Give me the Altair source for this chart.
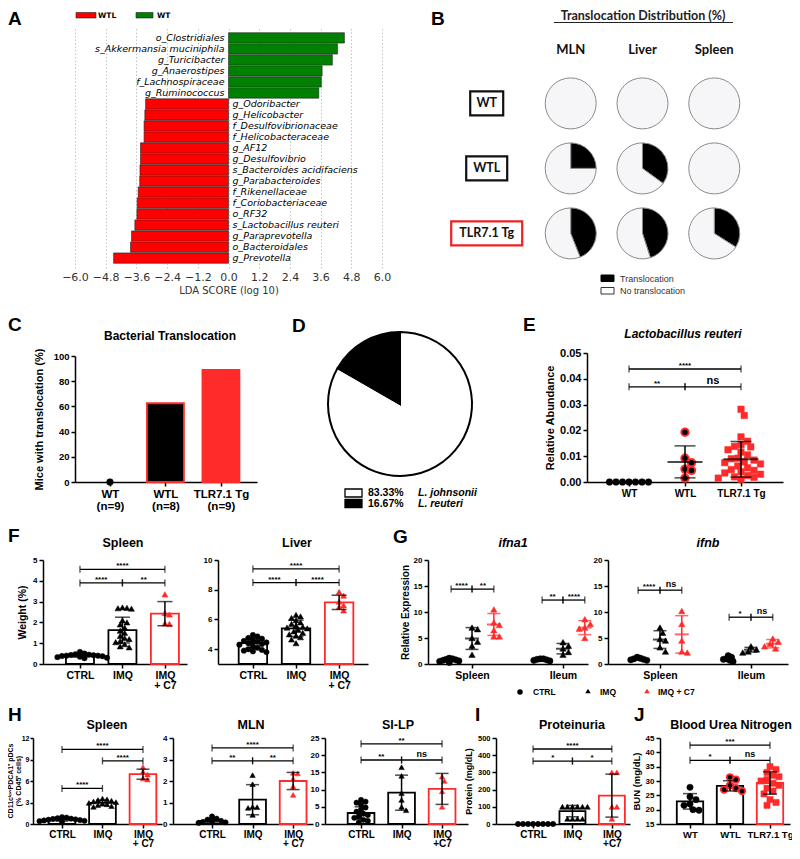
import math
import pandas as pd
import altair as alt

FONT = "Liberation Sans"
RED = "#ff2a2a"
TWO_PI = 2 * math.pi

# ======================= DATA =======================
# A  LEfSe
lefse_taxa = [
    "o_Clostridiales", "s_Akkermansia muciniphila", "g_Turicibacter", "g_Anaerostipes",
    "f_Lachnospiraceae", "g_Ruminococcus", "g_Odoribacter", "g_Helicobacter",
    "f_Desulfovibrionaceae", "f_Helicobacteraceae", "g_AF12", "g_Desulfovibrio",
    "s_Bacteroides acidifaciens", "g_Parabacteroides", "f_Rikenellaceae",
    "f_Coriobacteriaceae", "o_RF32", "s_Lactobacillus reuteri", "g_Paraprevotella",
    "o_Bacteroidales", "g_Prevotella"]
lefse_lda = [4.53, 4.26, 4.06, 3.66, 3.63, 3.53, -3.24, -3.27, -3.30, -3.30, -3.44, -3.44,
             -3.46, -3.47, -3.53, -3.57, -3.58, -3.66, -3.79, -3.83, -4.49]
lefse_class = ["WT"] * 6 + ["WTL"] * 15
lda_ticks = [-6.0, -4.8, -3.6, -2.4, -1.2, 0.0, 1.2, 2.4, 3.6, 4.8, 6.0]

# B  translocation distribution (fraction translocated)
trans_groups = ["WT", "WTL", "TLR7.1 Tg"]
trans_sites = ["MLN", "Liver", "Spleen"]
trans_mln = [0.0, 0.25, 0.44]
trans_liver = [0.0, 0.35, 0.45]
trans_spleen = [0.0, 0.0, 0.34]

# C  bacterial translocation
bt_groups = ["WT", "WTL", "TLR7.1 Tg"]
bt_n = [9, 8, 9]
bt_pct = [0.0, 62.5, 88.9]

# D  Lactobacillus species
lacto_species = ["L. johnsonii", "L. reuteri"]
lacto_pct = [83.33, 16.67]

# E  L. reuteri relative abundance
lr_groups = ["WT", "WTL", "TLR7.1 Tg"]
lr_wt = [0.0, 0.0, 0.0, 0.0, 0.0, 0.0, 0.0]
lr_wtl = [0.0193, 0.0092, 0.0075, 0.0050, 0.0045, 0.0015]
lr_tg = [0.0282, 0.0258, 0.0175, 0.0158, 0.0145, 0.0138, 0.0136, 0.0125, 0.0116, 0.0105,
         0.0092, 0.0090, 0.0085, 0.0078, 0.0075, 0.0070, 0.0062, 0.0055, 0.0048, 0.0045,
         0.0040, 0.0035, 0.0030, 0.0025, 0.0020, 0.0018, 0.0015, 0.0010]
lr_mean = [0.0, 0.0078, 0.0088]
lr_sd = [0.0, 0.0062, 0.0069]
lr_sig = [(0, 2, 0.0438, "****"), (0, 1, 0.0369, "**"), (1, 2, 0.0369, "ns")]

# F  organ weights
trt_names = [["CTRL"], ["IMQ"], ["IMQ", "+ C7"]]
spw_ctrl = [0.58, 0.50, 0.47, 0.45, 0.43, 0.42, 0.40, 0.40, 0.38, 0.37, 0.35, 0.33, 0.30, 0.28]
spw_imq = [2.72, 2.70, 2.68, 2.66, 2.10, 2.00, 1.90, 1.75, 1.60, 1.50, 1.35, 1.25, 1.20, 1.10,
           1.05, 0.95, 0.85, 0.80]
spw_c7 = [3.35, 2.45, 2.38, 1.95, 1.93]
spw_mean = [0.40, 1.63, 2.42]
spw_sd = [0.07, 0.62, 0.58]
spw_sig = [(0, 2, 4.55, "****"), (0, 1, 3.90, "****"), (1, 2, 3.90, "**")]

lvw_ctrl = [4.95, 4.85, 4.75, 4.70, 4.60, 4.55, 4.50, 4.45, 4.40, 4.35, 4.30, 4.20, 4.10, 4.00,
            3.95, 3.90, 3.85, 3.80]
lvw_imq = [6.30, 6.20, 6.10, 5.95, 5.80, 5.70, 5.60, 5.50, 5.45, 5.40, 5.30, 5.20, 5.10, 5.00,
           4.90, 4.80, 4.65, 4.40]
lvw_c7 = [7.85, 7.60, 7.20, 6.95, 6.85, 6.60]
lvw_mean = [4.40, 5.40, 7.15]
lvw_sd = [0.35, 0.55, 0.48]
lvw_sig = [(0, 2, 9.40, "****"), (0, 1, 8.48, "****"), (1, 2, 8.48, "****")]

# G  relative expression
tissue_names = [["Spleen"], ["Ileum"]]
ifna1_spleen = [[1.1, 1.0, 0.9, 0.8, 0.7, 0.6, 0.5, 0.3], [7.0, 6.7, 5.0, 4.3, 3.5, 1.8],
                [10.5, 8.0, 7.5, 6.5, 5.3, 5.3]]
ifna1_spleen_mean = [0.8, 4.9, 7.6]
ifna1_spleen_sd = [0.25, 2.1, 2.1]
ifna1_ileum = [[1.0, 1.0, 0.9, 0.8, 0.7, 0.6], [4.2, 3.5, 3.0, 2.3, 1.8],
               [8.6, 7.7, 7.0, 6.8, 5.0]]
ifna1_ileum_mean = [0.8, 2.95, 7.0]
ifna1_ileum_sd = [0.2, 1.0, 1.35]
ifna1_sig = [(-0.23, 0.0, 14.4, "****"), (0.0, 0.24, 14.4, "**"),
             (0.77, 1.0, 12.3, "**"), (1.0, 1.24, 12.3, "****")]

ifnb_spleen = [[1.3, 1.1, 1.0, 0.9, 0.8, 0.7], [7.0, 6.0, 4.8, 4.5, 3.2, 2.4],
               [10.2, 7.7, 4.5, 2.4, 2.2]]
ifnb_spleen_mean = [1.0, 4.7, 5.7]
ifnb_spleen_sd = [0.2, 1.7, 3.6]
ifnb_ileum = [[1.6, 1.3, 1.0, 0.9, 0.7, 0.5], [3.4, 2.8, 2.4, 2.2], [4.9, 4.3, 3.9, 3.4, 3.0]]
ifnb_ileum_mean = [0.9, 2.75, 3.9]
ifnb_ileum_sd = [0.35, 0.45, 0.8]
ifnb_sig = [(-0.24, 0.0, 14.2, "****"), (0.0, 0.24, 14.2, "ns"),
            (0.76, 1.0, 9.0, "*"), (1.0, 1.24, 9.0, "ns")]

# H  pDCs
pdc_sp = [[0.95, 0.90, 0.80, 0.75, 0.70, 0.65, 0.60, 0.55, 0.50, 0.45, 0.40, 0.30],
          [3.55, 3.45, 3.35, 3.25, 3.15, 3.05, 2.95, 2.85, 2.75, 2.65, 2.50, 2.40],
          [7.95, 7.30, 6.90, 6.35, 6.20]]
pdc_sp_mean = [0.6, 2.95, 6.95]
pdc_sp_sd = [0.2, 0.38, 0.7]
pdc_sp_sig = [(0, 2, 10.4, "****"), (1, 2, 8.8, "****"), (0, 1, 4.97, "****")]

pdc_mln = [[0.35, 0.25, 0.20, 0.15, 0.12, 0.10, 0.08, 0.05],
           [2.27, 1.85, 0.80, 0.78, 0.75, 0.42],
           [2.38, 2.35, 2.10, 1.75, 1.35]]
pdc_mln_mean = [0.15, 1.13, 2.0]
pdc_mln_sd = [0.1, 0.7, 0.4]
pdc_mln_sig = [(0, 2, 3.54, "****"), (0, 1, 2.94, "**"), (1, 2, 2.94, "**")]

pdc_silp = [[7.0, 6.5, 6.2, 5.6, 4.8, 4.2, 3.6, 3.0, 2.6, 2.2, 1.8, 1.2, 0.9, 0.5],
            [16.5, 14.0, 9.0, 7.0, 5.0, 4.0],
            [13.8, 12.5, 9.5, 5.0]]
pdc_silp_mean = [3.2, 9.1, 10.2]
pdc_silp_sd = [1.8, 5.1, 4.5]
pdc_silp_sig = [(0, 2, 23.3, "**"), (0, 1, 18.6, "**"), (1, 2, 18.6, "ns")]

# I  proteinuria
prot = [[0, 0, 0, 0, 0, 0, 0, 0],
        [100, 100, 100, 100, 100, 100, 30, 30, 30, 30],
        [300, 300, 100, 100, 30]]
prot_mean = [0, 75, 165]
prot_sd = [0, 33, 125]
prot_sig = [(0, 2, 436, "****"), (0, 1, 366, "*"), (1, 2, 366, "*")]

# J  BUN
bun_groups = [["WT"], ["WTL"], ["TLR7.1 Tg"]]
bun = [[27.8, 24.5, 23.5, 22.0, 21.5, 20.0, 19.8],
       [31.3, 30.5, 28.5, 27.5, 27.0, 26.5],
       [35.0, 34.0, 33.0, 32.0, 31.5, 30.5, 30.0, 29.2, 28.5, 27.5, 26.5, 25.5, 23.5, 22.5, 21.5]]
bun_mean = [22.9, 28.3, 29.3]
bun_sd = [2.7, 1.8, 3.9]
bun_sig = [(0, 2, 42.5, "***"), (0, 1, 37.2, "*"), (1, 2, 37.2, "ns")]

# ======================= HELPERS =======================
ONE = pd.DataFrame({"k": [0]})


def txt(s, x, y, size, weight="bold", style="normal", align="left", baseline="alphabetic",
        font=FONT, color="black", angle=0):
    kw = dict(fontSize=size, fontWeight=weight, fontStyle=style, align=align,
              baseline=baseline, font=font, color=color)
    if angle:
        kw["angle"] = angle
    return alt.Chart(ONE).mark_text(**kw).encode(x=alt.value(x), y=alt.value(y), text=alt.value(s))


def letter(s, x, y):
    return txt(s, x, y, 19, baseline="top")


def box(x1, x2, y1, y2, fill, stroke, sw=1.0):
    return alt.Chart(ONE).mark_rect(fill=fill, stroke=stroke, strokeWidth=sw).encode(
        x=alt.value(x1), x2=alt.value(x2), y=alt.value(y1), y2=alt.value(y2))


def sym(x, y, shape, color, size):
    return alt.Chart(ONE).mark_point(shape=shape, filled=True, color=color, size=size, opacity=1).encode(
        x=alt.value(x), y=alt.value(y))


def swarm(vals, ppy, d):
    placed, out = [], []
    for v in vals:
        y = v * ppy
        k = 0
        chosen = None
        while chosen is None:
            cands = [0.0] if k == 0 else [0.5 * d * k, -0.5 * d * k]
            for c in cands:
                if all((c - px) ** 2 + (y - py) ** 2 >= d * d * 0.999 for px, py in placed):
                    chosen = c
                    break
            k += 1
        placed.append((chosen, y))
        out.append(chosen)
    return out


def yaxis(values, fmt, lsize, title=None, tsize=10, tpad=4, tick=4, lpad=2):
    kw = dict(values=values, format=fmt, grid=False, domainColor="black", domainWidth=1.5,
              tickColor="black", tickWidth=1.5, tickSize=tick, labelPadding=lpad, labelFont=FONT,
              labelFontWeight="bold", labelFontSize=lsize, labelColor="black", labelOverlap=False)
    if title is None:
        kw["title"] = None
    else:
        kw.update(title=title, titleFont=FONT, titleFontWeight="bold", titleFontSize=tsize,
                  titleColor="black", titlePadding=tpad)
    return alt.Axis(**kw)


def xaxis(labels, lsize, lh, lpad=2):
    arr = "[" + ",".join("[" + ",".join("'" + s + "'" for s in lab) + "]" for lab in labels) + "]"
    return alt.Axis(values=list(range(len(labels))), labelExpr=arr + "[datum.value]", title=None,
                    grid=False, domainColor="black", domainWidth=1.5, tickColor="black",
                    tickWidth=1.5, tickSize=4, labelPadding=lpad, labelFont=FONT,
                    labelFontWeight="bold", labelFontSize=lsize, labelLineHeight=lh,
                    labelColor="black", labelOverlap=False, labelFlush=False)


def bracket_layers(br, xs, ys, star_size, ns_size):
    if not br:
        return []
    df = pd.DataFrame(br, columns=["x1", "x2", "y", "lab"])
    df["xm"] = (df["x1"] + df["x2"]) / 2
    ends = pd.DataFrame({"x": list(df["x1"]) + list(df["x2"]), "y": list(df["y"]) * 2})
    X = lambda f: alt.X(f, scale=xs, axis=None)
    Y = lambda f: alt.Y(f, scale=ys, axis=None)
    out = [
        alt.Chart(df).mark_rule(color="black", strokeWidth=1.3).encode(x=X("x1:Q"), x2="x2:Q", y=Y("y:Q")),
        alt.Chart(ends).mark_tick(orient="vertical", color="black", thickness=1.3, size=7).encode(
            x=X("x:Q"), y=Y("y:Q")),
    ]
    stars = df[df["lab"] != "ns"]
    ns = df[df["lab"] == "ns"]
    if len(stars):
        out.append(alt.Chart(stars).mark_text(font=FONT, fontWeight="bold", fontSize=star_size,
                                              baseline="alphabetic", dy=-1).encode(
            x=X("xm:Q"), y=Y("y:Q"), text="lab:N"))
    if len(ns):
        out.append(alt.Chart(ns).mark_text(font=FONT, fontWeight="bold", fontSize=ns_size,
                                           baseline="alphabetic", dy=-3).encode(
            x=X("xm:Q"), y=Y("y:Q"), text="lab:N"))
    return out


def dot_panel(w, h, xdom, ydom, yvals, yfmt, labels, series, brackets, ylsize, xlsize, xlh=11,
              ytitle=None, ytsize=10, ytpad=4, bars=True, bar_half=0.33, cap=14, mean_len=0,
              swarm_d=5.0, star_size=8, ns_size=9, yrange=None, extra=(), ytick=4, ylpad=2,
              xlpad=2):
    xs = alt.Scale(domain=xdom, nice=False, zero=False)
    if yrange is None:
        ys = alt.Scale(domain=ydom, nice=False, zero=False)
        ypix = h
    else:
        ys = alt.Scale(domain=ydom, nice=False, zero=False, range=yrange)
        ypix = yrange[0] - yrange[1]
    ppx = w / (xdom[1] - xdom[0])
    ppy = ypix / (ydom[1] - ydom[0])
    n = len(series)
    bdf = pd.DataFrame({
        "xa": [s["x"] - bar_half for s in series],
        "xb": [s["x"] + bar_half for s in series],
        "lo": [ydom[0]] * n,
        "hi": [s["mean"] for s in series],
        "sc": [s.get("bar_stroke", "black") if s["mean"] > ydom[0] else "transparent" for s in series],
        "fc": [s.get("bar_fill", "white") if s["mean"] > ydom[0] else "transparent" for s in series]})
    base = alt.Chart(bdf).mark_rect(strokeWidth=1.8, opacity=1.0 if bars else 0.0).encode(
        x=alt.X("xa:Q", scale=xs, axis=xaxis(labels, xlsize, xlh, xlpad)),
        x2="xb:Q",
        y=alt.Y("lo:Q", scale=ys, axis=yaxis(yvals, yfmt, ylsize, ytitle, ytsize, ytpad, ytick, ylpad)),
        y2="hi:Q",
        stroke=alt.Stroke("sc:N", scale=None),
        fill=alt.Fill("fc:N", scale=None))
    layers = []
    X = lambda f: alt.X(f, scale=xs, axis=None)
    Y = lambda f: alt.Y(f, scale=ys, axis=None)
    for s in series:
        if not s["vals"]:
            continue
        offs = swarm(s["vals"], ppy, s.get("swarm", swarm_d))
        pdf = pd.DataFrame({"px": [s["x"] + o / ppx for o in offs], "v": s["vals"]})
        layers.append(alt.Chart(pdf).mark_point(
            shape=s["shape"], filled=True, fill=s["fill"], stroke=s.get("stroke", s["fill"]),
            strokeWidth=s.get("sw", 0.5), size=s["size"], opacity=1).encode(x=X("px:Q"), y=Y("v:Q")))
    erows = [s for s in series if s["sd"] > 0]
    if erows:
        edf = pd.DataFrame({"x": [s["x"] for s in erows],
                            "lo": [s["mean"] - s["sd"] for s in erows],
                            "hi": [s["mean"] + s["sd"] for s in erows],
                            "c": [s.get("err", "black") for s in erows]})
        layers.append(alt.Chart(edf).mark_rule(strokeWidth=1.5).encode(
            x=X("x:Q"), y=Y("lo:Q"), y2="hi:Q", color=alt.Color("c:N", scale=None)))
        cdf = pd.DataFrame({"x": list(edf["x"]) * 2, "y": list(edf["lo"]) + list(edf["hi"]),
                            "c": list(edf["c"]) * 2})
        layers.append(alt.Chart(cdf).mark_tick(orient="horizontal", thickness=1.5, size=cap).encode(
            x=X("x:Q"), y=Y("y:Q"), color=alt.Color("c:N", scale=None)))
    if mean_len:
        mdf = pd.DataFrame({"x": [s["x"] for s in series], "m": [s["mean"] for s in series],
                            "c": [s.get("err", "black") for s in series]})
        layers.append(alt.Chart(mdf).mark_tick(orient="horizontal", thickness=2, size=mean_len).encode(
            x=X("x:Q"), y=Y("m:Q"), color=alt.Color("c:N", scale=None)))
    layers += bracket_layers(brackets, xs, ys, star_size, ns_size)
    layers += list(extra)
    return alt.layer(base, *layers).resolve_axis(x="independent", y="independent").properties(
        width=w, height=h)


def spacer(w, h, up=0):
    return alt.Chart(ONE).mark_rect(opacity=0).encode(
        x=alt.value(0), x2=alt.value(w), y=alt.value(-up), y2=alt.value(h)).properties(
        width=w, height=max(h, 1))


STY_BAR = [dict(shape="circle", fill="black", size=30),
           dict(shape="triangle-up", fill="black", size=36),
           dict(shape="triangle-up", fill=RED, size=36, bar_stroke=RED)]


def bar_series(groups, means, sds, styles=STY_BAR):
    return [dict(x=i, vals=groups[i], mean=means[i], sd=sds[i], **styles[i]) for i in range(len(groups))]


# ======================= PANEL A =======================
WA, HA = 307, 240
dfA = pd.DataFrame({"taxon": lefse_taxa, "lda": lefse_lda, "cls": lefse_class})
dfA["zero"] = 0.0
dfA["col"] = dfA["cls"].map({"WTL": "#ff0000", "WT": "#008000"})
xA = alt.Scale(domain=[-6, 6], nice=False, zero=False)
yA = alt.Scale(domain=lefse_taxa, paddingInner=0.06, paddingOuter=0.43)
axA = alt.Axis(values=lda_ticks, format=".1f", grid=True, gridDash=[1.5, 2], gridColor="#b5b5b5",
               gridWidth=0.8, domain=False, ticks=False, labelFont="DejaVu Sans", labelFontSize=11,
               labelColor="#333333", labelPadding=3, labelOverlap=False, labelFlush=False,
               title="LDA SCORE (log 10)", titleFont="DejaVu Sans", titleFontSize=10,
               titleFontWeight="normal", titleColor="#333333", titlePadding=3)
barsA = alt.Chart(dfA).mark_bar(stroke="#222222", strokeWidth=0.6).encode(
    x=alt.X("zero:Q", scale=xA, axis=axA), x2="lda:Q",
    y=alt.Y("taxon:N", scale=yA, axis=None),
    color=alt.Color("col:N", scale=None))
labA_pos = alt.Chart(dfA[dfA["lda"] > 0]).mark_text(
    align="right", dx=-4, font="DejaVu Sans", fontStyle="italic", fontSize=9.5, color="black").encode(
    x=alt.X("zero:Q", scale=xA, axis=None), y=alt.Y("taxon:N", scale=yA, axis=None), text="taxon:N")
labA_neg = alt.Chart(dfA[dfA["lda"] < 0]).mark_text(
    align="left", dx=4, font="DejaVu Sans", fontStyle="italic", fontSize=9.5, color="black").encode(
    x=alt.X("zero:Q", scale=xA, axis=None), y=alt.Y("taxon:N", scale=yA, axis=None), text="taxon:N")
panelA = alt.layer(
    barsA, labA_pos, labA_neg,
    letter("A", -67, -18),
    box(1, 21, -15.5, -10, "#ff0000", "#222222", 0.6),
    txt("WTL", 23, -12.5, 7.5, font="DejaVu Sans", baseline="middle"),
    box(61, 78, -15.5, -10, "#008000", "#222222", 0.6),
    txt("WT", 82, -12.5, 7.5, font="DejaVu Sans", baseline="middle"),
).resolve_axis(x="independent", y="independent").properties(width=WA, height=HA)

# ======================= PANEL B =======================
WB, HB = 315, 240
STEP_C, STEP_R = 71.8, 65.0
xB = alt.Scale(domain=[-1.751, 2.637], nice=False, zero=False)
yB = alt.Scale(domain=[-1.16, 2.532], nice=False, zero=False, reverse=True)
fracs = [trans_mln, trans_liver, trans_spleen]
rowsB = []
for gi in range(len(trans_groups)):
    for si in range(len(trans_sites)):
        p = fracs[si][gi]
        if p > 0:
            rowsB.append(dict(c=si, r=gi, col="#000000", t0=0.0, t1=p))
        rowsB.append(dict(c=si, r=gi, col="#f6f6f9", t0=p, t1=1.0))
dfB = pd.DataFrame(rowsB)
piesB = alt.Chart(dfB).mark_arc(radius=25.5, stroke="#8a8a8a", strokeWidth=1).encode(
    x=alt.X("c:Q", scale=xB, axis=None), y=alt.Y("r:Q", scale=yB, axis=None),
    theta=alt.Theta("t0:Q", scale=alt.Scale(domain=[0, 1], range=[0, TWO_PI]), stack=None),
    theta2="t1:Q",
    color=alt.Color("col:N", scale=None))
box_px = {"WT": 33, "WTL": 41, "TLR7.1 Tg": 71}
box_col = {"WT": "#111111", "WTL": "#111111", "TLR7.1 Tg": "#ee2222"}
dfBL = pd.DataFrame({"lab": trans_groups, "r": list(range(len(trans_groups)))})
dfBL["c"] = -1.17
dfBL["xa"] = dfBL["c"] - dfBL["lab"].map(box_px) / 2 / STEP_C
dfBL["xb"] = dfBL["c"] + dfBL["lab"].map(box_px) / 2 / STEP_C
dfBL["ya"] = dfBL["r"] - 12 / STEP_R
dfBL["yb"] = dfBL["r"] + 12 / STEP_R
dfBL["bc"] = dfBL["lab"].map(box_col)
boxesB = alt.Chart(dfBL).mark_rect(fill="white", strokeWidth=2.2).encode(
    x=alt.X("xa:Q", scale=xB, axis=None), x2="xb:Q",
    y=alt.Y("ya:Q", scale=yB, axis=None), y2="yb:Q",
    stroke=alt.Stroke("bc:N", scale=None))
labB = alt.Chart(dfBL).mark_text(font="Lato", fontWeight="bold", fontSize=12.5, color="#111111").encode(
    x=alt.X("c:Q", scale=xB, axis=None), y=alt.Y("r:Q", scale=yB, axis=None), text="lab:N")
dfBH = pd.DataFrame({"site": trans_sites, "c": list(range(len(trans_sites)))})
headB = alt.Chart(dfBH).mark_text(font="Lato", fontWeight="bold", fontSize=13, color="#111111",
                                  baseline="alphabetic").encode(
    x=alt.X("c:Q", scale=xB, axis=None), y=alt.value(26), text="site:N")
underline = alt.Chart(ONE).mark_rule(color="#222222", strokeWidth=1).encode(
    x=alt.value(109), x2=alt.value(288), y=alt.value(-5.5))
panelB = alt.layer(
    piesB, boxesB, labB, headB,
    txt("Translocation Distribution (%)", 198, -18, 12.5, font="Lato", align="center", color="#222222",
        baseline="top"),
    underline,
    letter("B", -14, -18),
    box(156, 169, 247, 253.5, "#000000", "#000000", 1),
    txt("Translocation", 175, 250.5, 9, weight="normal", baseline="middle", color="#333333"),
    box(156, 169, 259.5, 266, "white", "#333333", 1),
    txt("No translocation", 175, 263, 9, weight="normal", baseline="middle", color="#333333"),
).properties(width=WB, height=HB)

# ======================= PANEL C =======================
seriesC = [
    dict(x=0, vals=[bt_pct[0]] if bt_pct[0] == 0 else [], mean=bt_pct[0], sd=0, shape="circle",
         fill="black", size=45),
    dict(x=1, vals=[], mean=bt_pct[1], sd=0, shape="circle", fill="black", size=30,
         bar_fill="black", bar_stroke=RED),
    dict(x=2, vals=[], mean=bt_pct[2], sd=0, shape="circle", fill=RED, size=30,
         bar_fill=RED, bar_stroke=RED),
]
labelsC = [[g, "(n=%d)" % n] for g, n in zip(bt_groups, bt_n)]
panelC = dot_panel(182, 129, [-0.63, 2.65], [0, 100], [0, 20, 40, 60, 80, 100], "d", labelsC,
                   seriesC, [], ylsize=9.5, xlsize=11.5, xlh=12, ytitle="Mice with translocation (%)",
                   ytsize=11, ytpad=9, bar_half=0.333, yrange=[129, 3],
                   extra=[letter("C", -67, -37),
                          txt("Bacterial Translocation", 95, -13, 12, align="center")])

# ======================= PANEL D =======================
fr = [v / 100.0 for v in lacto_pct]
cum = [0.0]
for v in fr:
    cum.append(cum[-1] + v)
dfD = pd.DataFrame({"sp": lacto_species, "t0": cum[:-1], "t1": cum[1:],
                    "col": ["white", "black"]})
pieD = alt.Chart(dfD).mark_arc(radius=72, stroke="black", strokeWidth=2).encode(
    theta=alt.Theta("t0:Q", scale=alt.Scale(domain=[0, 1], range=[0, TWO_PI]), stack=None),
    theta2="t1:Q",
    color=alt.Color("col:N", scale=None))
legD = []
for i, (sp, pc) in enumerate(zip(lacto_species, lacto_pct)):
    yc = 140 + 10.5 * i
    legD.append(box(25, 42, yc - 4, yc + 4, "white" if i == 0 else "black", "black", 1.3))
    legD.append(txt("%.2f%%" % pc, 48, yc, 10.5, baseline="middle"))
    legD.append(txt(sp, 98, yc, 10.5, style="italic", baseline="middle"))
panelD = alt.layer(pieD, *legD, letter("D", -28, -36)).properties(width=160, height=102)

# ======================= PANEL E =======================
seriesE = [
    dict(x=0, vals=lr_wt, mean=lr_mean[0], sd=lr_sd[0], shape="circle", fill="black", size=45),
    dict(x=1, vals=lr_wtl, mean=lr_mean[1], sd=lr_sd[1], shape="circle", fill="black", stroke=RED,
         sw=2, size=55),
    dict(x=2, vals=lr_tg, mean=lr_mean[2], sd=lr_sd[2], shape="square", fill=RED, size=42),
]
panelE = dot_panel(196, 129, [-0.75, 2.75], [0, 0.05], [0, 0.01, 0.02, 0.03, 0.04, 0.05], ".2f",
                   [[g] for g in lr_groups], seriesE, lr_sig, ylsize=11, xlsize=10,
                   ytitle="Relative Abundance", ytsize=11, ytpad=4, bars=False, cap=21,
                   mean_len=35, swarm_d=6.5, star_size=8, ns_size=11,
                   extra=[letter("E", -64, -37),
                          txt("Lactobacillus reuteri", 96, -15, 12, style="italic", align="center")])

# ======================= PANEL F =======================
panelF1 = dot_panel(144, 104, [-0.87, 2.52], [0, 5], [0, 1, 2, 3, 4, 5], "d", trt_names,
                    bar_series([spw_ctrl, spw_imq, spw_c7], spw_mean, spw_sd), spw_sig,
                    ylsize=8, xlsize=10.5, xlh=10.5, ytitle="Weight (%)", ytsize=10.5, ytpad=5,
                    cap=15, swarm_d=4.5,
                    extra=[letter("F", -35, -33), txt("Spleen", 80, -13, 12.5, align="center")])
panelF2 = dot_panel(150, 104, [-0.81, 2.67], [3, 10], [4, 6, 8, 10], "d", trt_names,
                    bar_series([lvw_ctrl, lvw_imq, lvw_c7], lvw_mean, lvw_sd), lvw_sig,
                    ylsize=8, xlsize=10.5, xlh=10.5, cap=15, swarm_d=4.5,
                    extra=[txt("Liver", 79, -13, 12.5, align="center")])

# ======================= PANEL G =======================
TRT_OFF = [-0.25, 0.0, 0.24]
STY_G = [dict(shape="circle", fill="black", size=40, err="black", swarm=3.2),
         dict(shape="triangle-up", fill="black", size=40, err="black"),
         dict(shape="triangle-up", fill=RED, size=40, err=RED)]


def g_series(sp, spm, sps, il, ilm, ils):
    out = []
    for gi, (grp, m, s) in enumerate([(sp, spm, sps), (il, ilm, ils)]):
        for ti in range(3):
            out.append(dict(x=gi + TRT_OFF[ti], vals=grp[ti], mean=m[ti], sd=s[ti], **STY_G[ti]))
    return out


legG = [sym(92, 132, "circle", "black", 30), txt("CTRL", 105, 132, 8.5, baseline="middle"),
        sym(160, 131, "triangle-up", "black", 30), txt("IMQ", 172, 132, 8.5, baseline="middle"),
        sym(219, 131, "triangle-up", RED, 30), txt("IMQ + C7", 230, 132, 8.5, baseline="middle")]
panelG1 = dot_panel(160, 104, [-0.484, 1.275], [0, 20], [0, 5, 10, 15, 20], "d", tissue_names,
                    g_series(ifna1_spleen, ifna1_spleen_mean, ifna1_spleen_sd,
                             ifna1_ileum, ifna1_ileum_mean, ifna1_ileum_sd), ifna1_sig,
                    ylsize=8, xlsize=10.5, ytitle="Relative Expression", ytsize=10, ytpad=3,
                    bars=False, cap=13, mean_len=14, swarm_d=5.5,
                    extra=[letter("G", -35, -32),
                           txt("ifna1", 85, -13, 12.5, style="italic", align="center")] + legG)
panelG2 = dot_panel(180, 104, [-0.571, 1.407], [0, 20], [0, 5, 10, 15, 20], "d", tissue_names,
                    g_series(ifnb_spleen, ifnb_spleen_mean, ifnb_spleen_sd,
                             ifnb_ileum, ifnb_ileum_mean, ifnb_ileum_sd), ifnb_sig,
                    ylsize=8, xlsize=10.5, bars=False, cap=13, mean_len=14, swarm_d=5.5,
                    extra=[txt("ifnb", 100, -13, 12.5, style="italic", align="center")])

# ======================= PANEL H =======================
HR4 = 86          # plot height of the bottom row
STY_H = [dict(shape="circle", fill="black", size=28),
         dict(shape="triangle-up", fill="black", size=30),
         dict(shape="triangle-up", fill=RED, size=30, bar_stroke=RED)]
ROW4_X = dict(xlsize=10, xlh=9.5, xlpad=1)
panelH1 = dot_panel(129, HR4, [-0.716, 2.47], [0, 12], [0, 3, 6, 9, 12], "d", trt_names,
                    bar_series(pdc_sp, pdc_sp_mean, pdc_sp_sd, STY_H), pdc_sp_sig,
                    ylsize=7, ytick=3, ylpad=1, cap=13, swarm_d=4.5, **ROW4_X,
                    extra=[letter("H", -25, -32), txt("Spleen", 74, -9, 12.5, align="center"),
                           txt("CD11c\u02e1\u1d52\u02b7PDCA1\u207a pDCs", -22, HR4 / 2, 7,
                               align="center", baseline="middle", angle=270),
                           txt("(% CD45\u207a cells)", -14.5, HR4 / 2, 7,
                               align="center", baseline="middle", angle=270)])
panelH2 = dot_panel(140, HR4, [-0.963, 2.49], [0, 4], [0, 1, 2, 3, 4], "d", trt_names,
                    bar_series(pdc_mln, pdc_mln_mean, pdc_mln_sd, STY_H), pdc_mln_sig,
                    ylsize=8, cap=13, swarm_d=4.5, **ROW4_X,
                    extra=[txt("MLN", 78, -9, 12.5, align="center")])
panelH3 = dot_panel(143, HR4, [-0.89, 2.64], [0, 25], [0, 5, 10, 15, 20, 25], "d",
                    [["CTRL"], ["IMQ"], ["IMQ", "+C7"]],
                    bar_series(pdc_silp, pdc_silp_mean, pdc_silp_sd, STY_H), pdc_silp_sig,
                    ylsize=8, cap=13, swarm_d=4.5, **ROW4_X,
                    extra=[txt("SI-LP", 73, -9, 12.5, align="center")])

# ======================= PANEL I =======================
STY_I = [dict(shape="circle", fill="black", size=28),
         dict(shape="triangle-up", fill="black", size=32),
         dict(shape="triangle-up", fill=RED, size=32, bar_stroke=RED)]
panelI = dot_panel(134, HR4, [-0.94, 2.46], [0, 500], [0, 100, 200, 300, 400, 500], "d",
                   [["CTRL"], ["IMQ"], ["IMQ", "+C7"]],
                   bar_series(prot, prot_mean, prot_sd, STY_I), prot_sig,
                   ylsize=7.5, ytitle="Protein (mg/dL)", ytsize=9, ytpad=4,
                   cap=13, swarm_d=5, **ROW4_X,
                   extra=[letter("I", -21, -32), txt("Proteinuria", 76, -9, 12.5, align="center")])

# ======================= PANEL J =======================
STY_J = [dict(shape="circle", fill="black", size=40),
         dict(shape="circle", fill="black", stroke=RED, sw=1.8, size=42),
         dict(shape="square", fill=RED, size=38, bar_stroke=RED)]
panelJ = dot_panel(130, HR4, [-0.75, 2.5], [15, 45], [15, 20, 25, 30, 35, 40, 45], "d", bun_groups,
                   bar_series(bun, bun_mean, bun_sd, STY_J), bun_sig,
                   ylsize=8, ytitle="BUN (mg/dL)", ytsize=9.5, ytpad=4,
                   cap=14, swarm_d=6, xlsize=9.5, xlh=9.5, xlpad=1,
                   extra=[letter("J", -26, -32),
                          txt("Blood Urea Nitrogen", 71, -9, 12.5, align="center")])

# ======================= LAYOUT =======================
X0 = 30                      # page x of every row's origin
T2, T3, T4 = 45, 40, 35      # guard overhang above rows 2-4
R1, R2, R3, R4 = 28, 353, 560, 738   # page y of each row's plot tops
SVG_W, SVG_H = 784, 841
row1 = alt.hconcat(spacer(45, R2 - R1 - T2), panelA, spacer(63, 1), panelB,
                   spacing=0, bounds="flush")
row2 = alt.hconcat(spacer(45, R3 - R2 - T3, T2), panelC, spacer(63, 1), panelD,
                   spacer(107, 1), panelE, spacing=0, bounds="flush")
row3 = alt.hconcat(spacer(13, R4 - R3 - T4, T3), panelF1, spacer(31, 1), panelF2,
                   spacer(60, 1), panelG1, spacer(20, 1), panelG2, spacing=0, bounds="flush")
row4 = alt.hconcat(spacer(3, HR4, T4), panelH1, spacer(11, 1), panelH2,
                   spacer(12, 1), panelH3, spacer(28, 1), panelI, spacer(30, 1), panelJ,
                   spacing=0, bounds="flush")

chart = alt.vconcat(row1, row2, row3, row4, spacing=0).properties(
    autosize=alt.AutoSizeParams(type="none"),
    padding={"left": X0 - 8, "top": R1 - 8, "right": SVG_W - (X0 - 8), "bottom": SVG_H - (R1 - 8)},
).configure_view(stroke=None)

chart.save("out.html", embed_options={"renderer": "svg", "actions": False})
